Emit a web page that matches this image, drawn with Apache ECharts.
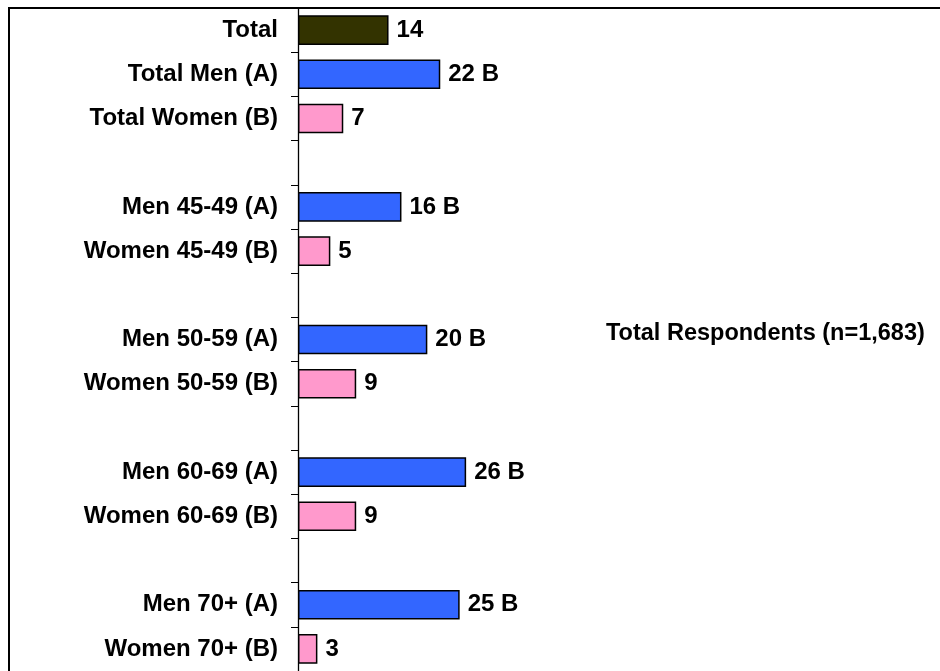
<!DOCTYPE html>
<html>
<head>
<meta charset="utf-8">
<script src="https://cdn.jsdelivr.net/npm/echarts@6/dist/echarts.min.js"></script>
<style>
html,body{margin:0;padding:0;background:#fff;}
#chart{width:940px;height:671px;}
</style>
</head>
<body>
<div id="chart"></div>
<script>
const categories = ['Total', 'Total Men (A)', 'Total Women (B)', ' ',
  'Men 45-49 (A)', 'Women 45-49 (B)', '  ',
  'Men 50-59 (A)', 'Women 50-59 (B)', '   ',
  'Men 60-69 (A)', 'Women 60-69 (B)', '    ',
  'Men 70+ (A)', 'Women 70+ (B)'];
const values = [14, 22, 7, null, 16, 5, null, 20, 9, null, 26, 9, null, 25, 3];
const sigLetters = ['', 'B', '', '', 'B', '', '', 'B', '', '', 'B', '', '', 'B', ''];
const groups = ['total', 'men', 'women', null, 'men', 'women', null, 'men', 'women', null, 'men', 'women', null, 'men', 'women'];
const noteText = 'Total Respondents (n=1,683)';

const groupColors = { total: '#333300', men: '#3366FF', women: '#FF99CC' };
const FONT = 'Arial, "Liberation Sans", sans-serif';

const chart = echarts.init(document.getElementById('chart'), null, { renderer: 'canvas' });
const seriesData = values.map((v, i) => ({
  value: v,
  itemStyle: { color: groups[i] ? groupColors[groups[i]] : '#fff' }
}));

chart.setOption({
  animation: false,
  backgroundColor: '#fff',
  grid: { left: 298, right: 60, top: 8, bottom: -4, containLabel: false },
  xAxis: {
    type: 'value', min: 0, max: 90, show: false,
    splitLine: { show: false }
  },
  yAxis: {
    type: 'category',
    data: categories,
    inverse: true,
    axisLine: { show: true, lineStyle: { color: '#000', width: 1.3 } },
    axisTick: { show: true, length: 7, lineStyle: { color: '#000', width: 1 } },
    axisLabel: {
      color: '#000', fontWeight: 'bold', fontSize: 24, fontFamily: FONT, margin: 20
    },
    splitLine: { show: false }
  },
  series: [{
    type: 'bar',
    data: seriesData,
    barWidth: '67%',
    itemStyle: { borderColor: '#000', borderWidth: 1.5 },
    label: {
      show: true,
      position: 'right',
      distance: 8,
      color: '#000',
      fontWeight: 'bold',
      fontSize: 24,
      fontFamily: FONT,
      formatter: p => {
        if (p.value == null) return '';
        const s = sigLetters[p.dataIndex];
        return s ? p.value + ' ' + s : String(p.value);
      }
    }
  }],
  graphic: [
    {
      type: 'rect',
      shape: { x: 9, y: 8, width: 1200, height: 1200 },
      style: { fill: 'none', stroke: '#000', lineWidth: 2 },
      silent: true,
      z: 10
    },
    {
      type: 'text',
      x: 606, y: 334,
      style: {
        text: noteText,
        fill: '#000',
        font: 'bold 23.5px ' + FONT,
        textAlign: 'left',
        textVerticalAlign: 'middle'
      },
      z: 10
    }
  ]
});
</script>
</body>
</html>
